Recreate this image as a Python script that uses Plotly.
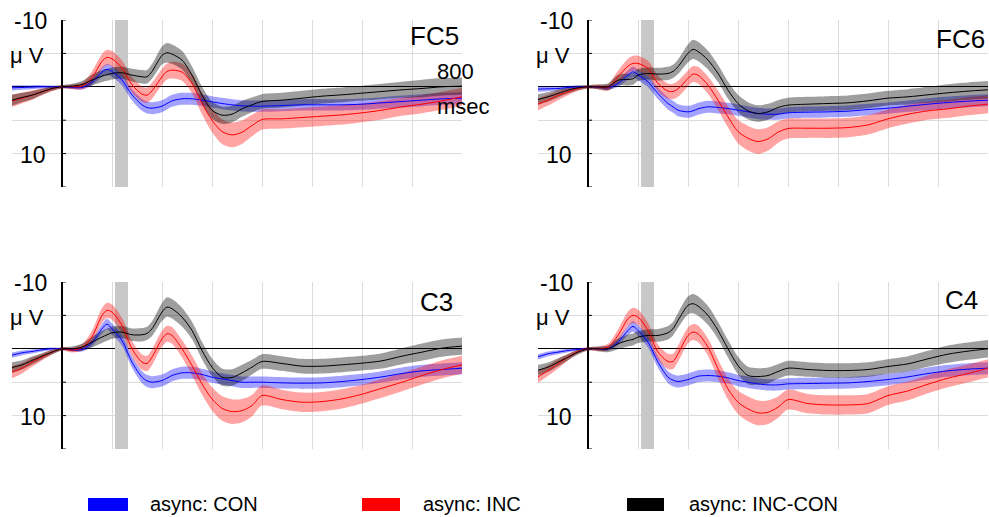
import plotly.graph_objects as go

W, H = 989, 517

# time points (ms)
T = [-100, -80, -60, -40, -20, 0, 20, 40, 60, 80, 90, 100, 120, 140, 160, 170, 180, 200, 210, 220,
     240, 260, 280, 300, 320, 340, 360, 380, 400, 440, 480, 520, 560, 600, 640, 680, 720, 760, 800]

# amplitudes (microvolts)
FC5_CON = [0.15, 0.1, 0.05, 0.0, 0.0, 0.0, 0.1, 0.1, -0.7, -2.2, -2.6, -2.3, -1.0, 1.2, 2.7, 3.1, 3.2, 2.9, 2.5, 2.1,
           1.8, 1.8, 2.0, 2.25, 2.5, 2.7, 2.85, 2.9, 2.9, 2.8, 2.7, 2.7, 2.7, 2.6, 2.4, 2.2, 2.0, 1.8, 1.7]
FC5_INC = [2.1, 1.7, 1.25, 0.75, 0.3, 0.0, 0.0, -0.1, -1.4, -3.8, -4.4, -4.2, -2.8, -0.3, 1.1, 1.25, 0.6, -1.5, -2.3, -2.5,
           -2.2, -0.5, 2.5, 5.0, 6.7, 7.2, 6.8, 5.8, 4.9, 4.8, 4.6, 4.4, 4.2, 3.9, 3.5, 3.0, 2.6, 2.1, 1.5]
FC5_DIF = [2.0, 1.6, 1.25, 0.75, 0.25, 0.0, -0.1, -0.35, -1.0, -1.6, -1.8, -2.0, -2.1, -1.75, -1.5, -1.5, -2.3, -4.7, -5.1, -4.9,
           -4.0, -1.75, 1.25, 3.5, 4.25, 4.1, 3.3, 2.7, 2.2, 2.0, 1.7, 1.4, 1.2, 0.95, 0.7, 0.45, 0.25, 0.0, -0.1]

FC6_CON = [0.35, 0.3, 0.25, 0.1, 0.0, 0.0, 0.05, 0.15, -0.5, -1.75, -2.25, -1.8, -0.75, 1.0, 2.5, 3.0, 3.5, 3.75, 3.6, 3.3,
           3.0, 3.1, 3.25, 3.5, 3.75, 4.0, 4.1, 4.1, 3.9, 3.8, 3.75, 3.65, 3.4, 3.2, 2.9, 2.6, 2.35, 2.15, 2.0]
FC6_INC = [2.6, 2.0, 1.3, 0.75, 0.25, 0.0, 0.0, 0.1, -1.5, -3.1, -3.5, -3.5, -2.75, -0.5, 0.65, 0.7, 0.3, -1.25, -1.9, -1.75,
           -0.25, 2.0, 4.5, 6.7, 7.7, 8.2, 7.8, 6.8, 6.25, 6.2, 6.2, 6.1, 5.7, 4.8, 4.1, 3.6, 3.3, 2.9, 2.6]
FC6_DIF = [1.9, 1.5, 1.0, 0.5, 0.15, 0.0, 0.0, 0.0, -1.0, -1.1, -1.2, -1.75, -2.0, -1.9, -2.0, -2.3, -3.0, -5.0, -5.6, -5.3,
           -4.0, -2.0, 0.5, 2.5, 3.6, 4.0, 3.75, 3.1, 2.75, 2.6, 2.5, 2.4, 2.1, 1.7, 1.5, 1.2, 0.9, 0.65, 0.45]

C3_CON = [0.95, 0.6, 0.4, 0.15, 0.0, 0.0, 0.15, 0.1, -0.9, -3.0, -3.7, -3.0, -1.25, 2.0, 4.25, 4.8, 5.0, 4.75, 4.4, 4.0,
          3.6, 3.6, 3.85, 4.25, 4.5, 4.75, 5.0, 5.0, 5.0, 5.1, 5.15, 5.1, 4.9, 4.6, 4.2, 3.7, 3.3, 3.1, 2.9]
C3_INC = [3.5, 2.9, 2.0, 1.25, 0.5, 0.0, 0.2, -0.2, -1.8, -5.0, -5.75, -5.5, -3.5, 0.0, 2.0, 2.2, 1.25, -1.5, -2.25, -2.0,
          0.0, 2.5, 5.25, 7.5, 8.9, 9.4, 9.25, 8.5, 7.0, 7.6, 8.0, 7.9, 7.5, 6.8, 5.9, 5.0, 4.0, 3.1, 2.4]
C3_DIF = [2.8, 2.4, 1.75, 1.1, 0.5, 0.0, 0.0, -0.25, -1.0, -1.75, -2.1, -2.4, -2.5, -2.1, -2.1, -2.3, -3.0, -5.5, -6.25, -6.0,
          -4.75, -2.75, 0.25, 2.75, 4.25, 4.3, 3.6, 2.75, 1.9, 2.2, 2.6, 2.6, 2.4, 2.15, 1.8, 1.1, 0.5, -0.1, -0.4]

C4_CON = [1.2, 0.75, 0.5, 0.25, 0.1, 0.0, 0.0, 0.0, -1.0, -2.75, -3.35, -2.75, -1.0, 2.0, 4.25, 4.7, 4.9, 4.6, 4.35, 4.1,
          4.0, 4.1, 4.35, 4.75, 5.0, 5.25, 5.4, 5.4, 5.25, 5.2, 5.15, 5.1, 4.9, 4.6, 4.2, 3.7, 3.3, 3.05, 2.9]
C4_INC = [4.2, 3.25, 2.25, 1.25, 0.4, 0.0, 0.0, -0.25, -2.0, -4.5, -5.0, -4.75, -2.75, 0.5, 1.9, 1.9, 0.75, -2.0, -2.5, -2.25,
          -0.25, 3.0, 6.0, 8.0, 9.0, 9.6, 9.5, 8.75, 7.6, 8.2, 8.4, 8.4, 8.2, 7.0, 6.3, 5.3, 4.4, 3.7, 2.9]
C4_DIF = [3.2, 2.75, 2.0, 1.25, 0.5, 0.0, 0.0, 0.0, -0.75, -1.25, -1.4, -1.75, -2.0, -2.0, -2.4, -3.0, -4.25, -6.5, -6.75, -6.4,
          -5.0, -2.75, 0.0, 2.5, 4.0, 4.15, 4.0, 3.4, 2.9, 3.1, 3.25, 3.25, 3.1, 2.65, 2.25, 1.5, 0.8, 0.35, 0.0]

# half-widths of the shaded bands (microvolts)
SE_CON = [0.4, 0.35, 0.3, 0.25, 0.2, 0.15, 0.2, 0.3, 0.5, 0.7, 0.8, 0.8, 0.8, 0.85, 0.9, 0.9, 0.9, 0.9, 0.9, 0.9,
          0.9, 0.9, 0.85, 0.85, 0.85, 0.85, 0.85, 0.85, 0.85, 0.85, 0.85, 0.85, 0.85, 0.85, 0.85, 0.9, 0.9, 0.9, 0.9]
SE_INC = [0.9, 0.8, 0.7, 0.5, 0.35, 0.25, 0.35, 0.5, 0.9, 1.1, 1.15, 1.15, 1.15, 1.15, 1.15, 1.15, 1.2, 1.2, 1.2, 1.25,
          1.3, 1.45, 1.6, 1.75, 1.85, 1.85, 1.75, 1.6, 1.5, 1.45, 1.45, 1.45, 1.45, 1.4, 1.4, 1.35, 1.35, 1.35, 1.35]
SE_DIF = [0.8, 0.7, 0.6, 0.45, 0.35, 0.25, 0.35, 0.5, 0.8, 0.9, 0.9, 0.9, 0.9, 0.95, 1.0, 1.0, 1.1, 1.35, 1.45, 1.45,
          1.4, 1.3, 1.3, 1.3, 1.3, 1.25, 1.2, 1.1, 1.1, 1.1, 1.1, 1.1, 1.1, 1.1, 1.15, 1.2, 1.3, 1.3, 1.3]

PANEL_NAMES = ["FC5", "FC6", "C3", "C4"]
PANEL_SERIES = [(FC5_CON, FC5_INC, FC5_DIF), (FC6_CON, FC6_INC, FC6_DIF),
                (C3_CON, C3_INC, C3_DIF), (C4_CON, C4_INC, C4_DIF)]
SERIES_LABELS = ["async: CON", "async: INC", "async: INC-CON"]
SERIES_SE = [SE_CON, SE_INC, SE_DIF]
Y_TICKS = [-10, -5, 0, 5, 10, 15]
HIGHLIGHT = (106, 132)  # gray window, ms

LINE_COLORS = ["#0000ff", "#ff0000", "#000000"]
BAND_COLORS = ["rgba(0,0,255,0.36)", "rgba(255,0,0,0.36)", "rgba(0,0,0,0.38)"]
FONT = "Liberation Sans, Arial, sans-serif"

# panel pixel boxes: (left, right, top, bottom)
BOXES = [(12, 462, 20, 187), (538, 988, 20, 187), (12, 462, 282, 449), (538, 988, 282, 449)]
# label offsets (y in data units, xshift in px)
NAME_POS = [(-7.6, -1), (-7.1, -1), (-7.0, -7), (-7.3, -8)]


def px2x(p):
    return p / W


def px2y(p):
    return 1 - p / H


fig = go.Figure()
layout = dict(width=W, height=H, margin=dict(l=0, r=0, t=0, b=0),
              paper_bgcolor="white", plot_bgcolor="white", showlegend=False)
shapes, annos = [], []

for i, (name, series) in enumerate(zip(PANEL_NAMES, PANEL_SERIES)):
    n = "" if i == 0 else str(i + 1)
    xa, ya = "x" + n, "y" + n
    l, r, t, b = BOXES[i]
    layout["xaxis" + n] = dict(domain=[px2x(l), px2x(r)], range=[-100, 800], anchor=ya,
                               showgrid=True, gridcolor="#dcdcdc", gridwidth=1, dtick=100, tick0=0,
                               showticklabels=False, ticks="", zeroline=True, zerolinecolor="#000000",
                               zerolinewidth=1.4, showline=False, fixedrange=True)
    layout["yaxis" + n] = dict(domain=[px2y(b), px2y(t)], range=[15, -10], anchor=xa,
                               showgrid=True, gridcolor="#dcdcdc", gridwidth=1, dtick=5, tick0=0,
                               showticklabels=False, ticks="", zeroline=True, zerolinecolor="#000000",
                               zerolinewidth=1.2, showline=False, fixedrange=True)
    # gray highlighted window
    shapes.append(dict(type="rect", xref=xa, yref=ya, x0=HIGHLIGHT[0], x1=HIGHLIGHT[1], y0=-10, y1=15.2,
                       fillcolor="rgb(200,200,200)", line=dict(width=0), layer="between"))
    # y-axis tick marks
    for v in Y_TICKS:
        shapes.append(dict(type="line", xref=xa, yref=ya, x0=0, x1=8, y0=v, y1=v,
                           line=dict(color="#000000", width=1)))
    # bands
    for k, mean in enumerate(series):
        se = SERIES_SE[k]
        up = [m - s for m, s in zip(mean, se)]
        lo = [m + s for m, s in zip(mean, se)]
        fig.add_trace(go.Scatter(x=T, y=up, xaxis=xa, yaxis=ya, mode="lines",
                                 line=dict(width=0, shape="spline", smoothing=0.8),
                                 hoverinfo="skip", showlegend=False))
        fig.add_trace(go.Scatter(x=T, y=lo, xaxis=xa, yaxis=ya, mode="lines",
                                 line=dict(width=0, shape="spline", smoothing=0.8),
                                 fill="tonexty", fillcolor=BAND_COLORS[k],
                                 hoverinfo="skip", showlegend=False))
    # mean lines
    for k, mean in enumerate(series):
        fig.add_trace(go.Scatter(x=T, y=mean, xaxis=xa, yaxis=ya, mode="lines",
                                 line=dict(width=1.0, color=LINE_COLORS[k], shape="spline", smoothing=0.8),
                                 name=SERIES_LABELS[k], showlegend=False))
    # text labels
    ny, nxs = NAME_POS[i]
    annos.append(dict(xref=xa, yref=ya, x=800, y=ny, text=name, showarrow=False, xanchor="right",
                      yanchor="middle", xshift=nxs, font=dict(family=FONT, size=26, color="#000")))
    annos.append(dict(xref=xa, yref=ya, x=0, y=-10, text="-10", showarrow=False, xanchor="right",
                      yanchor="middle", xshift=-13, yshift=-1, font=dict(family=FONT, size=23, color="#000")))
    annos.append(dict(xref=xa, yref=ya, x=0, y=-4.7, text="μ V", showarrow=False, xanchor="right",
                      yanchor="middle", xshift=-16, font=dict(family=FONT, size=22, color="#000")))
    annos.append(dict(xref=xa, yref=ya, x=0, y=10.2, text="10", showarrow=False, xanchor="right",
                      yanchor="middle", xshift=-14, font=dict(family=FONT, size=23, color="#000")))
    if i == 0:
        annos.append(dict(xref=xa, yref=ya, x=746, y=-2.3, text="800", showarrow=False, xanchor="left",
                          yanchor="middle", font=dict(family=FONT, size=22, color="#000")))
        annos.append(dict(xref=xa, yref=ya, x=746, y=2.9, text="msec", showarrow=False, xanchor="left",
                          yanchor="middle", font=dict(family=FONT, size=22, color="#000")))

# legend drawn as swatches + labels
LEG_SWATCH = [(88, 128), (362, 400), (627, 664)]
LEG_TEXT_X = [148, 421, 687]
for k in range(3):
    x0, x1 = LEG_SWATCH[k]
    shapes.append(dict(type="rect", xref="paper", yref="paper", x0=px2x(x0), x1=px2x(x1),
                       y0=px2y(511), y1=px2y(498), fillcolor=LINE_COLORS[k], line=dict(width=0)))
    annos.append(dict(xref="paper", yref="paper", x=px2x(LEG_TEXT_X[k]), y=px2y(504), text=SERIES_LABELS[k],
                      showarrow=False, xanchor="left", yanchor="middle",
                      font=dict(family=FONT, size=20, color="#000")))

layout["shapes"] = shapes
layout["annotations"] = annos
fig.update_layout(**layout)
fig.write_html("out.html", config={"displayModeBar": False, "staticPlot": True},
               post_script="document.body.style.margin='0';document.body.style.padding='0';"
                           "document.body.style.overflow='hidden';")
